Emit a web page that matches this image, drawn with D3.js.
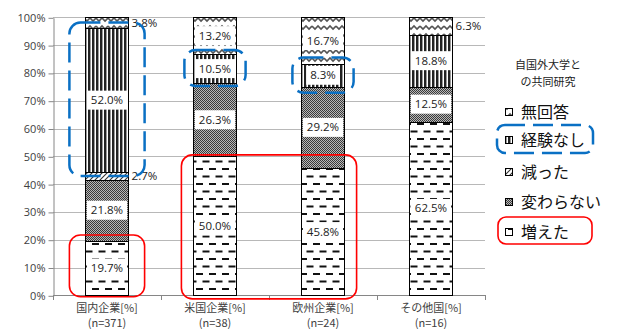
<!DOCTYPE html>
<html><head><meta charset="utf-8">
<script src="https://cdn.jsdelivr.net/npm/d3@7"></script>
<style>
body{margin:0;background:#fff;}
svg{display:block;font-family:"Noto Sans CJK JP","Noto Sans",sans-serif;}
</style></head>
<body>
<svg id="c" width="622" height="329"></svg>
<script>
// ---- data ----
const categories = ["国内企業[%]", "米国企業[%]", "欧州企業[%]", "その他国[%]"];
const sampleSizes = ["(n=371)", "(n=38)", "(n=24)", "(n=16)"];
const seriesNames = ["増えた", "変わらない", "減った", "経験なし", "無回答"];
const increased   = [19.7, 50.0, 45.8, 62.5];
const unchanged   = [21.8, 26.3, 29.2, 12.5];
const decreased   = [2.7, 0, 0, 0];
const noExperience= [52.0, 10.5, 8.3, 18.8];
const noAnswer    = [3.8, 13.2, 16.7, 6.3];
const yTicks = [0, 10, 20, 30, 40, 50, 60, 70, 80, 90, 100];
const legendTitle = ["自国外大学と", "の共同研究"];
// annotation boxes (category span, value span)
const blueBoxes = [
  {c0: 0, c1: 0, v0: 42.9, v1: 98.1, pad: 16},
  {c0: 1, c1: 1, v0: 75.3, v1: 88.2, pad: 9},
  {c0: 2, c1: 2, v0: 72.9, v1: 85.5, pad: 9}
];
const redBoxes = [
  {c0: 0, c1: 0, v0: -0.5, v1: 21.7, pad: 16},
  {c0: 1, c1: 2, v0: -1.3, v1: 50.5, pad: 12}
];

const seriesValues = [increased, unchanged, decreased, noExperience, noAnswer];
const patternIds = ["pInc", "pSame", "pDec", "pNone", "pNA"];

const svg = d3.select("#c");
const defs = svg.append("defs");

function pat(id, w, h) {
  const p = defs.append("pattern").attr("id", id).attr("patternUnits", "userSpaceOnUse")
    .attr("width", w).attr("height", h);
  p.append("rect").attr("width", w).attr("height", h).attr("fill", "#fff");
  return p;
}
// 増えた : staggered dashes
{
  const p = pat("pInc", 13, 15);
  p.append("rect").attr("x", 1).attr("y", 3).attr("width", 7).attr("height", 2).attr("fill", "#111");
  p.append("rect").attr("x", 7.5).attr("y", 10.5).attr("width", 7).attr("height", 2).attr("fill", "#111");
  p.append("rect").attr("x", -5.5).attr("y", 10.5).attr("width", 7).attr("height", 2).attr("fill", "#111");
}
// 変わらない : dark checker
{
  const p = pat("pSame", 2, 2);
  p.append("rect").attr("width", 2).attr("height", 2).attr("fill", "#b8b8b8");
  p.append("rect").attr("x", 0).attr("y", 0).attr("width", 1).attr("height", 1).attr("fill", "#3a3a3a");
  p.append("rect").attr("x", 1).attr("y", 1).attr("width", 1).attr("height", 1).attr("fill", "#3a3a3a");
}
// 減った : diagonal lines
{
  const p = pat("pDec", 5, 5);
  p.append("path").attr("d", "M-1,6 L6,-1 M-1,1 L1,-1 M4,6 L6,4").attr("stroke", "#333").attr("stroke-width", 1.1);
}
// 経験なし : vertical stripes
{
  const p = pat("pNone", 4, 4);
  p.append("rect").attr("x", 0).attr("width", 2).attr("height", 4).attr("fill", "#222");
  p.append("rect").attr("x", 2).attr("width", 1).attr("height", 4).attr("fill", "#9a9a9a");
}
// 無回答 : zigzag waves
{
  const p = pat("pNA", 12, 8);
  p.append("path").attr("d", "M0,2 L3,5 L6,2 L9,5 L12,2").attr("fill", "none")
    .attr("stroke", "#555").attr("stroke-width", 1.6);
}

// scales
const x = d3.scaleBand().domain(categories).range([53, 485]).paddingInner(0.6).paddingOuter(0.3);
const y = d3.scaleLinear().domain([0, 100]).range([295.3, 17.3]);

// gridlines
svg.append("g").selectAll("line").data(yTicks.slice(1)).join("line")
  .attr("x1", 53).attr("x2", 485).attr("y1", d => Math.round(y(d)) + 0.5).attr("y2", d => Math.round(y(d)) + 0.5)
  .attr("stroke", "#b8b8b8").attr("stroke-width", 1);

// y axis
const yAxis = svg.append("g").attr("transform", "translate(53.5,0.5)")
  .call(d3.axisLeft(y).tickValues(yTicks).tickFormat(d => d + "%").tickSize(5).tickSizeOuter(0));
yAxis.select(".domain").attr("stroke", "#868686");
yAxis.selectAll(".tick line").attr("stroke", "#868686");
yAxis.selectAll(".tick text").attr("fill", "#404040").attr("font-size", 11)
  .attr("font-family", "'Open Sans','Noto Sans',sans-serif").attr("x", -8);

// x axis line + boundary ticks
const xb = [53].concat(categories.map(c => x(c) + x.bandwidth() + x.step() * x.paddingInner() / 2));
svg.append("line").attr("x1", 53).attr("x2", 485).attr("y1", Math.round(y(0)) + 0.5).attr("y2", Math.round(y(0)) + 0.5)
  .attr("stroke", "#868686");
svg.append("g").selectAll("line").data(xb).join("line")
  .attr("x1", d => Math.round(d) + 0.5).attr("x2", d => Math.round(d) + 0.5)
  .attr("y1", Math.round(y(0))).attr("y2", Math.round(y(0)) + 5).attr("stroke", "#868686");

// category labels
const cl = svg.append("g");
categories.forEach((c, i) => {
  const cx = x(c) + x.bandwidth() / 2;
  cl.append("text").attr("x", cx).attr("y", 312).attr("text-anchor", "middle")
    .attr("font-size", 11).attr("fill", "#404040").text(c);
  cl.append("text").attr("x", cx).attr("y", 327).attr("text-anchor", "middle")
    .attr("font-size", 11).attr("fill", "#404040").text(sampleSizes[i]);
});

// stacked bars
const rows = categories.map((c, i) => {
  const o = {cat: c};
  seriesNames.forEach((s, k) => o[s] = seriesValues[k][i]);
  return o;
});
const stack = d3.stack().keys(seriesNames)(rows);
const barG = svg.append("g");
stack.forEach((layer, k) => {
  barG.append("g").selectAll("rect").data(layer.filter(d => d[1] - d[0] > 0)).join("rect")
    .attr("x", d => Math.round(x(d.data.cat)) + 0.5)
    .attr("width", Math.round(x.bandwidth()))
    .attr("y", d => Math.round(y(d[1])) + 0.5)
    .attr("height", d => Math.round(y(d[0])) - Math.round(y(d[1])))
    .attr("fill", `url(#${patternIds[k]})`)
    .attr("stroke", "#000").attr("stroke-width", 1);
});

// value labels
const lblG = svg.append("g").attr("font-family", "'Open Sans','Noto Sans',sans-serif").attr("font-size", 11.5);
stack.forEach((layer, k) => {
  layer.forEach(d => {
    const v = d[1] - d[0];
    if (v <= 0) return;
    const cy = y((d[0] + d[1]) / 2);
    const txt = v.toFixed(1) + "%";
    if (v < 7) {
      lblG.append("text").attr("x", x(d.data.cat) + x.bandwidth() + 3).attr("y", cy + 4)
        .attr("fill", "#222").text(txt);
    } else {
      const cx = x(d.data.cat) + x.bandwidth() / 2;
      const r = lblG.append("rect").attr("fill", "#fff");
      const t = lblG.append("text").attr("x", cx).attr("y", cy + 4).attr("text-anchor", "middle")
        .attr("fill", "#222").text(txt);
      const w = t.node().getComputedTextLength();
      r.attr("x", cx - w / 2 - 4).attr("y", cy - 9.5).attr("width", w + 8).attr("height", 19);
    }
  });
});

// annotation boxes
function annoRect(b, color, dashed, width) {
  const x0 = x(categories[b.c0]) - b.pad;
  const x1 = x(categories[b.c1]) + x.bandwidth() + b.pad;
  const r = svg.append("rect").attr("x", x0).attr("y", y(b.v1)).attr("width", x1 - x0)
    .attr("height", y(b.v0) - y(b.v1)).attr("rx", 11).attr("fill", "none")
    .attr("stroke", color).attr("stroke-width", width);
  if (dashed) r.attr("stroke-dasharray", "20,8");
}
blueBoxes.forEach(b => annoRect(b, "#0a70c4", true, 2.5));
redBoxes.forEach(b => annoRect(b, "#f00", false, 1.6));

// legend
const lg = svg.append("g");
legendTitle.forEach((t, i) => {
  lg.append("text").attr("x", 548).attr("y", 69 + i * 17).attr("text-anchor", "middle")
    .attr("font-size", 11).attr("fill", "#222").text(t);
});
const legendOrder = [4, 3, 2, 1, 0];
const legendY = [111.7, 140, 171.7, 201.7, 231.7];
legendOrder.forEach((k, i) => {
  const cy = legendY[i];
  lg.append("rect").attr("x", 505.5).attr("y", Math.round(cy - 4) + 0.5).attr("width", 7).attr("height", 7)
    .attr("fill", `url(#${patternIds[k]})`).attr("stroke", "#000").attr("stroke-width", 1);
  lg.append("text").attr("x", 521).attr("y", cy + 6).attr("font-size", 16).attr("fill", "#111")
    .text(seriesNames[k]);
});
lg.append("rect").attr("x", 497).attr("y", 125).attr("width", 96).attr("height", 28).attr("rx", 8)
  .attr("fill", "none").attr("stroke", "#0a70c4").attr("stroke-width", 2.5).attr("stroke-dasharray", "20,8");
lg.append("rect").attr("x", 498).attr("y", 217).attr("width", 94).attr("height", 27).attr("rx", 8)
  .attr("fill", "none").attr("stroke", "#f00").attr("stroke-width", 1.6);
</script>
</body></html>
